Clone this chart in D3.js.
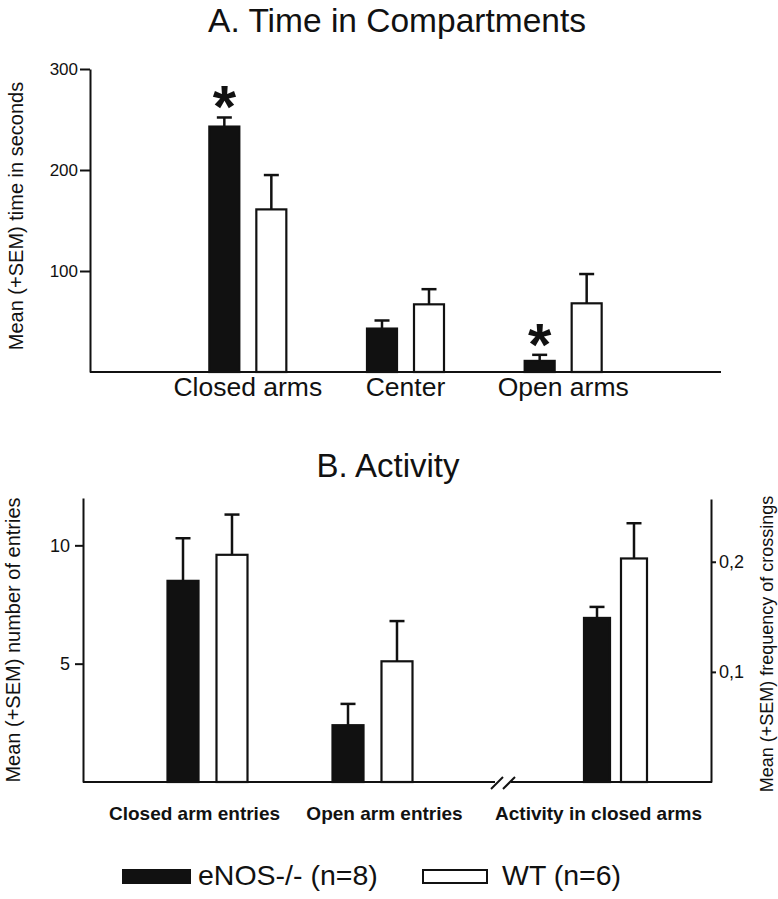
<!DOCTYPE html>
<meta charset="utf-8" />
<script src="https://d3js.org/d3.v7.min.js"></script>
<style>
  body { margin: 0; background: #fff; }
  text { font-family: "Liberation Sans", Arial, sans-serif; fill: #111; }
</style>
<body>
<script>
  // ---- data ----
  var compartments = ["Closed arms", "Center", "Open arms"];
  var timeENOS = [243, 43, 11];
  var timeENOSsem = [9, 8, 6];
  var timeWT = [161, 67, 68];
  var timeWTsem = [34, 15, 29];
  var timeStars = [true, false, true]; // eNOS significantly different
  var timeTicks = [100, 200, 300];

  var entryCats = ["Closed arm entries", "Open arm entries"];
  var entriesENOS = [8.5, 2.4];
  var entriesENOSsem = [1.8, 0.9];
  var entriesWT = [9.6, 5.1];
  var entriesWTsem = [1.7, 1.7];
  var entryTicks = [5, 10];

  var activityCats = ["Activity in closed arms"];
  var activityENOS = [0.149];
  var activityENOSsem = [0.01];
  var activityWT = [0.203];
  var activityWTsem = [0.032];
  var freqTicks = [0.1, 0.2];

  var groups = ["eNOS-/- (n=8)", "WT (n=6)"];

  var W = 778, H = 899;
  var svg = d3.select("body").append("svg").attr("width", W).attr("height", H);

  // draws paired bars with +SEM error bars
  function drawPairs(g, cats, outer, inner, y, m1, s1, m2, s2, capW) {
    var series = [
      { key: "e", mean: m1, sem: s1, fill: "#111" },
      { key: "w", mean: m2, sem: s2, fill: "#fff" }
    ];
    series.forEach(function(s) {
      cats.forEach(function(c, i) {
        var x0 = outer(c) + inner(s.key);
        var bw = inner.bandwidth();
        var xc = x0 + bw / 2;
        // error bar
        g.append("line")
          .attr("x1", xc).attr("x2", xc)
          .attr("y1", y(s.mean[i])).attr("y2", y(s.mean[i] + s.sem[i]))
          .attr("stroke", "#111").attr("stroke-width", 2.5);
        g.append("line")
          .attr("x1", xc - capW / 2).attr("x2", xc + capW / 2)
          .attr("y1", y(s.mean[i] + s.sem[i])).attr("y2", y(s.mean[i] + s.sem[i]))
          .attr("stroke", "#111").attr("stroke-width", 2.5);
        g.append("rect")
          .attr("x", x0).attr("width", bw)
          .attr("y", y(s.mean[i])).attr("height", y(0) - y(s.mean[i]))
          .attr("fill", s.fill)
          .attr("stroke", "#111").attr("stroke-width", 2.2);
      });
    });
  }

  function styleAxis(g, size) {
    g.attr("font-family", '"Liberation Sans", Arial, sans-serif').attr("font-size", size);
    g.selectAll("path, line").attr("stroke", "#111").attr("stroke-width", 2);
    g.selectAll("text").attr("fill", "#111");
  }

  // ================= Panel A =================
  var gA = svg.append("g");
  var yA = d3.scaleLinear().domain([0, 300]).range([372, 69]);
  var xA = d3.scaleBand().domain(compartments).range([169, 642]);
  var innerA = d3.scaleBand().domain(["e", "w"])
    .range([xA.bandwidth() / 2 - 38.5, xA.bandwidth() / 2 + 38.5])
    .paddingInner(0.3617);

  gA.append("text")
    .attr("x", 397).attr("y", 32)
    .attr("text-anchor", "middle")
    .attr("font-size", 33.5)
    .text("A. Time in Compartments");

  gA.append("g")
    .attr("transform", "translate(90,0)")
    .call(d3.axisLeft(yA).tickValues(timeTicks).tickSize(10).tickSizeOuter(0).tickPadding(2))
    .call(styleAxis, 17);

  gA.append("line")
    .attr("x1", 90).attr("x2", 721)
    .attr("y1", yA(0)).attr("y2", yA(0))
    .attr("stroke", "#111").attr("stroke-width", 2.2);

  drawPairs(gA, compartments, xA, innerA, yA, timeENOS, timeENOSsem, timeWT, timeWTsem, 15);

  // significance stars above eNOS bars
  compartments.forEach(function(c, i) {
    if (!timeStars[i]) return;
    var xc = xA(c) + innerA("e") + innerA.bandwidth() / 2;
    gA.append("text")
      .attr("x", xc).attr("y", yA(timeENOS[i] + timeENOSsem[i]) + 10)
      .attr("text-anchor", "middle")
      .attr("font-size", 60).attr("font-weight", "bold")
      .text("*");
  });

  gA.selectAll(".catA")
    .data(compartments)
    .enter()
    .append("text")
    .attr("x", function(d) { return xA(d) + xA.bandwidth() / 2; })
    .attr("y", 396)
    .attr("text-anchor", "middle")
    .attr("font-size", 26.5)
    .text(function(d) { return d; });

  gA.append("text")
    .attr("transform", "translate(23," + 216 + ") rotate(-90)")
    .attr("text-anchor", "middle")
    .attr("font-size", 20)
    .text("Mean (+SEM) time in seconds");

  // ================= Panel B =================
  var gB = svg.append("g");
  var yB = d3.scaleLinear().domain([0, 12]).range([782, 498]);
  var yR = d3.scaleLinear().domain([0, 0.257]).range([782, 499]);
  var breakX = 503;
  var xB = d3.scaleBand().domain(entryCats).range([125, 455]);
  var innerB = d3.scaleBand().domain(["e", "w"])
    .range([xB.bandwidth() / 2 - 40, xB.bandwidth() / 2 + 40])
    .paddingInner(0.367);
  var xC = d3.scaleBand().domain(activityCats).range([520, 711]);
  var innerC = d3.scaleBand().domain(["e", "w"])
    .range([xC.bandwidth() / 2 - 31.5, xC.bandwidth() / 2 + 31.5])
    .paddingInner(0.297);

  gB.append("text")
    .attr("x", 388).attr("y", 477)
    .attr("text-anchor", "middle")
    .attr("font-size", 33)
    .text("B. Activity");

  gB.append("g")
    .attr("transform", "translate(83,0)")
    .call(d3.axisLeft(yB).tickValues(entryTicks).tickSize(8).tickSizeOuter(0).tickPadding(5))
    .call(styleAxis, 18);

  gB.append("g")
    .attr("transform", "translate(711,0)")
    .call(d3.axisRight(yR).tickValues(freqTicks).tickSize(5).tickSizeOuter(0).tickPadding(3)
      .tickFormat(function(d) { return d3.format(".1f")(d).replace(".", ","); }))
    .call(styleAxis, 18);

  // broken x axis
  gB.append("line")
    .attr("x1", 83).attr("x2", breakX - 8)
    .attr("y1", yB(0)).attr("y2", yB(0))
    .attr("stroke", "#111").attr("stroke-width", 2.2);
  gB.append("line")
    .attr("x1", breakX + 8).attr("x2", 712)
    .attr("y1", yB(0)).attr("y2", yB(0))
    .attr("stroke", "#111").attr("stroke-width", 2.2);
  [-6, 6].forEach(function(dx) {
    gB.append("line")
      .attr("x1", breakX + dx - 6).attr("x2", breakX + dx + 6)
      .attr("y1", yB(0) + 7).attr("y2", yB(0) - 5)
      .attr("stroke", "#111").attr("stroke-width", 2);
  });

  drawPairs(gB, entryCats, xB, innerB, yB, entriesENOS, entriesENOSsem, entriesWT, entriesWTsem, 15);
  drawPairs(gB, activityCats, xC, innerC, yR, activityENOS, activityENOSsem, activityWT, activityWTsem, 15);

  // category labels (slightly off-centre as in the figure)
  var labelShift = [-13, 12, -17];
  var bCats = entryCats.concat(activityCats);
  gB.selectAll(".catB")
    .data(bCats)
    .enter()
    .append("text")
    .attr("x", function(d, i) {
      var sc = i < entryCats.length ? xB : xC;
      return sc(d) + sc.bandwidth() / 2 + labelShift[i];
    })
    .attr("y", 820)
    .attr("text-anchor", "middle")
    .attr("font-size", 19)
    .attr("font-weight", "bold")
    .text(function(d) { return d; });

  gB.append("text")
    .attr("transform", "translate(20,640) rotate(-90)")
    .attr("text-anchor", "middle")
    .attr("font-size", 20)
    .text("Mean (+SEM) number of entries");

  gB.append("text")
    .attr("transform", "translate(773,644) rotate(-90)")
    .attr("text-anchor", "middle")
    .attr("font-size", 18)
    .text("Mean (+SEM) frequency of crossings");

  // ================= Legend =================
  var legend = svg.append("g");
  var legendX = [123, 423];
  groups.forEach(function(gname, i) {
    legend.append("rect")
      .attr("x", legendX[i]).attr("y", 870)
      .attr("width", i === 0 ? 67 : 64).attr("height", 13)
      .attr("fill", i === 0 ? "#111" : "#fff")
      .attr("stroke", "#111").attr("stroke-width", 2);
    legend.append("text")
      .attr("x", legendX[i] + (i === 0 ? 75 : 79)).attr("y", 885)
      .attr("font-size", 28.5)
      .text(gname);
  });
</script>
</body>
